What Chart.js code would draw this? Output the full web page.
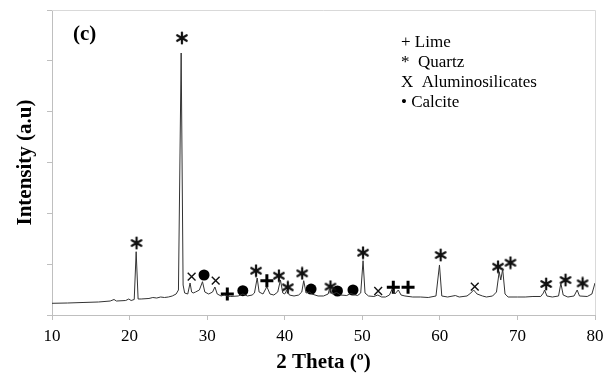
<!DOCTYPE html>
<html>
<head>
<meta charset="utf-8">
<script src="https://cdn.jsdelivr.net/npm/chart.js@4.4.1/dist/chart.umd.min.js"></script>
<style>
html, body { margin: 0; padding: 0; background: #fff; }
#wrap { width: 616px; height: 375px; }
</style>
</head>
<body>
<div id="wrap"><canvas id="xrd"></canvas></div>
<script>
// diffractogram
var twoTheta = [10.0, 12.0, 14.0, 16.0, 17.5, 18.0, 18.3, 19.5, 19.9, 20.2, 20.6, 20.85, 21.1, 21.5, 22.5, 23.0, 23.5, 24.0, 24.5, 25.0,
  25.5, 26.0, 26.3, 26.65, 26.9, 27.1, 27.5, 27.8, 28.0, 28.2, 28.5, 29.0, 29.4, 29.7, 30.2, 30.7, 31.0, 31.3, 31.8, 32.2,
  32.6, 33.0, 34.0, 34.6, 35.2, 35.8, 36.1, 36.45, 36.7, 37.2, 37.7, 38.1, 38.6, 39.1, 39.45, 39.75, 40.0, 40.3, 40.6, 41.2,
  41.8, 42.2, 42.45, 42.75, 43.2, 43.5, 44.3, 45.0, 45.6, 45.8, 46.1, 46.7, 47.2, 48.0, 48.5, 48.9, 49.4, 49.8, 50.1, 50.35,
  50.8, 51.5, 52.0, 52.5, 53.0, 53.5, 53.85, 54.2, 54.65, 55.0, 55.5, 56.5, 57.5, 58.5, 59.5, 59.95, 60.25, 61.0, 62.0, 62.5,
  63.5, 64.0, 64.35, 64.8, 65.5, 66.0, 66.8, 67.3, 67.65, 67.85, 68.1, 68.4, 68.8, 70.0, 71.0, 72.0, 73.0, 73.35, 73.5, 73.8,
  74.5, 75.3, 75.6, 75.9, 76.5, 77.3, 77.7, 78.0, 79.0, 79.6, 80.0];
var intensity = [230, 236, 246, 256, 275, 305, 275, 285, 315, 285, 305, 1245, 315, 315, 325, 344, 334, 354, 344, 354,
  374, 413, 492, 5154, 590, 433, 413, 629, 452, 433, 452, 492, 655, 452, 413, 452, 551, 413, 374, 393,
  374, 364, 374, 413, 374, 393, 433, 728, 452, 413, 557, 413, 393, 452, 688, 433, 413, 492, 393, 374,
  393, 452, 675, 433, 452, 413, 374, 374, 413, 531, 413, 443, 393, 383, 423, 403, 383, 433, 1068, 433,
  374, 364, 393, 354, 354, 393, 511, 413, 492, 393, 374, 354, 354, 344, 374, 984, 374, 354, 383, 354,
  374, 433, 492, 413, 374, 354, 374, 452, 852, 688, 899, 413, 354, 354, 354, 364, 364, 433, 492, 374,
  354, 374, 624, 393, 354, 374, 492, 374, 364, 413, 629];

// phase markers
var quartzX = [20.9, 26.75, 36.3, 39.25, 40.4, 42.25, 45.9, 50.1, 60.1, 67.5, 69.1, 73.7, 76.2, 78.4];
var quartzY = [1416, 5449, 871, 773, 545, 820, 557, 1225, 1180, 950, 1029, 610, 688, 623];
var aluminoX = [28.0, 31.1, 52.05, 64.5];
var aluminoY = [753, 675, 472, 557];
var limeX = [32.6, 37.7, 54.0, 55.9];
var limeY = [413, 675, 545, 545];
var calciteX = [29.6, 34.6, 43.4, 46.8, 48.8];
var calciteY = [787, 478, 511, 472, 492];

var xTicks = [10, 20, 30, 40, 50, 60, 70, 80];
var legendLines = ['+ Lime', '*  Quartz', 'X  Aluminosilicates', '\u2022 Calcite'];

function pts(xs, ys) {
  return xs.map(function (x, i) { return { x: x, y: ys[i] }; });
}

// six-armed asterisk glyph for quartz
var star = document.createElement('canvas');
star.width = 14; star.height = 14;
(function () {
  var c = star.getContext('2d');
  c.strokeStyle = '#111';
  c.lineWidth = 2.2;
  c.lineCap = 'round';
  [90, 30, 150].forEach(function (a) {
    var r = a * Math.PI / 180;
    c.beginPath();
    c.moveTo(7 - Math.cos(r) * 5.5, 7 - Math.sin(r) * 5.5);
    c.lineTo(7 + Math.cos(r) * 5.5, 7 + Math.sin(r) * 5.5);
    c.stroke();
  });
})();

var serif = '"Liberation Serif", "Times New Roman", serif';

var decor = {
  id: 'decor',
  beforeDatasetsDraw: function (chart) {
    var a = chart.chartArea, ctx = chart.ctx;
    ctx.save();
    ctx.strokeStyle = '#d9d9d9';
    ctx.lineWidth = 1;
    ctx.beginPath();
    ctx.moveTo(a.left, a.top + 0.5);
    ctx.lineTo(a.right + 0.5, a.top + 0.5);
    ctx.lineTo(a.right + 0.5, a.bottom);
    ctx.stroke();
    ctx.restore();
  },
  afterDraw: function (chart) {
    var ctx = chart.ctx;
    ctx.save();
    ctx.fillStyle = '#000';
    ctx.textBaseline = 'middle';
    ctx.font = 'bold 21px ' + serif;
    ctx.fillText('(c)', 73, 35);
    ctx.font = '17px ' + serif;
    legendLines.forEach(function (t, i) {
      ctx.fillText(t, 401, 43 + i * 20);
    });
    ctx.restore();
  }
};

new Chart(document.getElementById('xrd'), {
  type: 'scatter',
  data: {
    datasets: [
      {
        label: 'pattern',
        data: pts(twoTheta, intensity),
        showLine: true,
        borderColor: '#333',
        borderWidth: 1,
        pointRadius: 0,
        tension: 0
      },
      {
        label: 'Quartz',
        data: pts(quartzX, quartzY),
        pointStyle: star
      },
      {
        label: 'Aluminosilicates',
        data: pts(aluminoX, aluminoY),
        pointStyle: 'crossRot',
        pointRadius: 5.5,
        borderColor: '#111',
        borderWidth: 1.4
      },
      {
        label: 'Lime',
        data: pts(limeX, limeY),
        pointStyle: 'cross',
        pointRadius: 6.5,
        borderColor: '#000',
        borderWidth: 3
      },
      {
        label: 'Calcite',
        data: pts(calciteX, calciteY),
        pointStyle: 'circle',
        pointRadius: 5.5,
        backgroundColor: '#000',
        borderColor: '#000',
        borderWidth: 0
      }
    ]
  },
  options: {
    responsive: true,
    maintainAspectRatio: false,
    animation: false,
    events: [],
    layout: { padding: { left: 0, right: 21, top: 10, bottom: 0 } },
    plugins: {
      legend: { display: false },
      tooltip: { enabled: false }
    },
    scales: {
      x: {
        type: 'linear',
        min: 10,
        max: 80,
        afterBuildTicks: function (s) { s.ticks = xTicks.map(function (v) { return { value: v }; }); },
        afterFit: function (s) { s.height = 60; },
        grid: { drawOnChartArea: false, tickLength: 5, color: '#bfbfbf' },
        border: { color: '#bfbfbf' },
        ticks: { padding: 6, color: '#000', font: { family: serif, size: 17 } },
        title: {
          display: true,
          text: '2 Theta (\u00ba)',
          color: '#000',
          padding: { top: 0, bottom: 0 },
          font: { family: serif, size: 21, weight: 'bold' }
        }
      },
      y: {
        min: 0,
        max: 6000,
        afterFit: function (s) { s.width = 52; },
        grid: { drawOnChartArea: false, tickLength: 5, color: '#bfbfbf' },
        border: { color: '#bfbfbf' },
        ticks: { stepSize: 1000, display: false },
        title: {
          display: true,
          text: 'Intensity (a.u)',
          color: '#000',
          padding: { top: 13, bottom: 0 },
          font: { family: serif, size: 21, weight: 'bold' }
        }
      }
    }
  },
  plugins: [decor]
});
</script>
</body>
</html>
